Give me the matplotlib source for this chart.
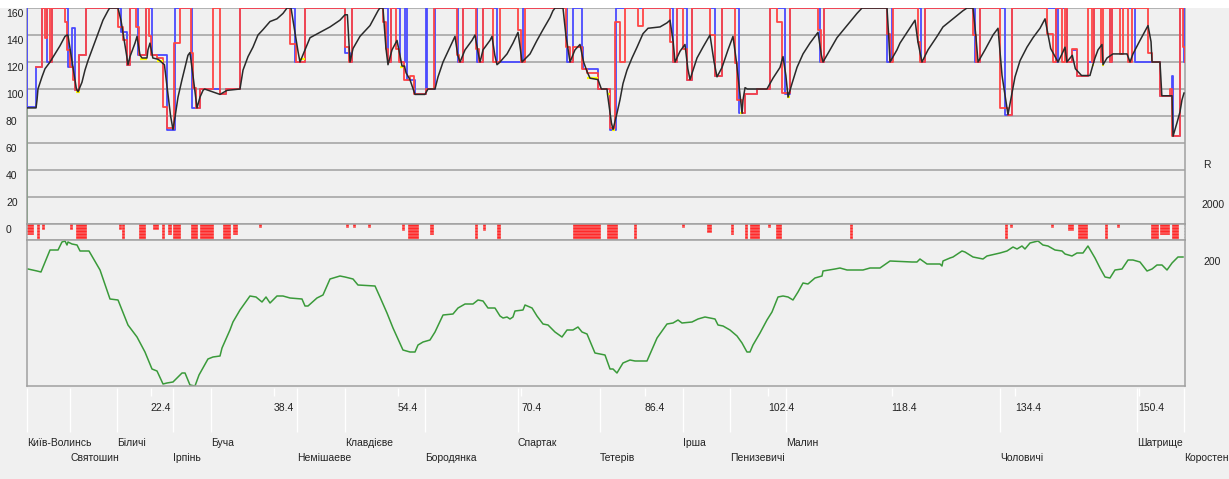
import matplotlib
matplotlib.use("Agg")
import matplotlib.pyplot as plt
import matplotlib.transforms as mtransforms
from matplotlib.patches import Rectangle

# ---- data -------------------------------------------------------------
# actual speed (km, km/h)
speed_km = [6.4, 7.57, 7.7, 7.82, 8.34, 8.73, 9.38, 10.03, 10.67, 11.32, 11.58, 11.7, 12.8, 13.01,
            13.52, 13.91, 14.30, 14.95, 15.60, 16.24, 16.89, 17.1, 18.19, 18.6, 19.3, 19.48, 19.74,
            20.39, 20.65, 21.04, 21.3, 21.94, 22.07, 22.33, 22.7, 23.4, 24.2, 25.0, 25.31, 25.57,
            25.96, 26.48, 26.87, 27.25, 27.51, 27.9, 28.42, 28.81, 29.20, 29.4, 31.40, 32.31, 33.99,
            34.1, 34.38, 35.03, 35.67, 36.32, 36.97, 37.88, 38.78, 39.56, 40.08, 40.6, 41.5, 41.76,
            42.41, 43.06, 44.35, 45.65, 46.94, 47.59, 47.9, 48.24, 48.63, 49.53, 50.83, 51.87, 52.1,
            52.51, 52.9, 53.16, 53.68, 54.33, 54.7, 54.98, 55.3, 55.5, 56.0, 56.66, 57.95, 58.34,
            59.25, 59.64, 60.29, 61.19, 61.84, 62.2, 62.49, 63.14, 64.04, 64.43, 64.8, 65.08, 65.47,
            66.37, 66.63, 67.0, 67.28, 67.67, 68.58, 69.35, 70.00, 70.3, 70.52, 71.56, 72.46, 73.24,
            74.15, 74.53, 74.8, 75.83, 76.2, 76.74, 77.38, 78.03, 78.5, 78.94, 79.33, 80.36, 80.8,
            81.53, 81.6, 82.1, 82.31, 82.82, 83.21, 83.60, 84.12, 84.77, 85.42, 86.19, 86.84, 88.40,
            89.30, 89.69, 90.1, 90.34, 90.99, 91.63, 92.0, 92.28, 93.19, 93.96, 94.87, 95.4, 95.78,
            96.43, 97.20, 97.85, 98.3, 99.02, 99.15, 99.41, 99.7, 102.25, 103.03, 103.94, 104.33,
            104.7, 104.98, 105.49, 106.14, 106.92, 107.82, 108.86, 109.3, 109.51, 110.42, 111.32,
            112.62, 113.91, 114.56, 117.80, 118.0, 118.19, 119.09, 119.48, 120.39, 121.43, 121.8,
            122.33, 123.11, 124.28, 125.05, 126.35, 127.64, 128.16, 128.94, 129.3, 129.59, 130.49,
            131.53, 132.18, 132.7, 133.47, 133.99, 134.38, 135.03, 135.93, 136.71, 137.62, 138.27,
            139.0, 139.95, 140.47, 140.86, 141.1, 141.8, 142.2, 143.0, 144.09, 144.48, 144.74, 145.13,
            145.65, 145.78, 146.30, 147.07, 148.89, 149.28, 149.66, 150.57, 151.61, 152.0, 152.13,
            153.16, 153.4, 154.72, 154.85, 155.36, 155.75, 156.01, 156.27]
speed_v = [86, 86, 92, 100, 109, 115, 120, 126, 132, 139, 140, 140, 100, 98,
           105, 114, 121, 131, 141, 151, 158, 160, 160, 150, 125, 118, 124,
           134, 139, 125, 123, 123, 129, 134, 123, 122, 118, 80, 70, 79,
           94, 107, 116, 125, 127, 110, 86, 94, 99, 100, 96, 99, 100,
           104, 114, 124, 131, 140, 144, 150, 152, 156, 160, 160, 128, 120,
           129, 138, 142, 146, 151, 155, 155, 120, 130, 139, 147, 158, 160,
           160, 130, 118, 129, 136, 125, 117, 117, 112, 107, 96, 96, 100,
           100, 109, 120, 131, 139, 125, 120, 129, 136, 140, 128, 120, 129,
           136, 139, 125, 118, 120, 126, 134, 142, 130, 120, 126, 136, 144,
           153, 158, 160, 160, 140, 120, 129, 133, 120, 113, 108, 107, 100,
           100, 96, 75, 70, 82, 92, 104, 114, 123, 131, 141, 145, 146,
           149, 151, 135, 120, 128, 133, 115, 107, 123, 131, 140, 120, 109,
           116, 129, 139, 120, 82, 92, 101, 100, 100, 108, 116, 124,
           110, 94, 104, 116, 126, 134, 142, 125, 120, 129, 138,
           147, 156, 160, 160, 141, 120, 129, 134, 142, 151, 135,
           120, 129, 139, 146, 152, 158, 160, 160, 140, 120, 129,
           140, 145, 110, 81, 97, 109, 121, 131, 138, 145, 152,
           130, 120, 126, 131, 120, 125, 115, 110, 110, 118, 123, 129,
           133, 118, 123, 126, 126, 120, 126, 136, 147, 135, 120,
           120, 95, 95, 65, 75, 83, 92, 97]

# red limit (step, km start -> km/h)
red_km = [7.57, 8.34, 8.73, 8.99, 9.38, 9.64, 11.32, 11.58, 11.97, 12.36, 12.62, 13.14, 14.04,
          18.19, 18.84, 19.35, 19.74, 20.52, 20.91, 21.81, 22.20, 22.46, 23.24, 24.02, 24.53, 25.44, 26.22,
          27.64, 27.90, 28.29, 28.81, 30.49, 31.40, 32.18, 33.99,
          40.47, 41.24, 42.41, 47.59, 48.11, 48.50, 52.51, 52.90, 53.16, 53.55, 54.20, 54.59, 55.23,
          56.01, 56.53, 58.08, 59.12,
          62.10, 62.36, 62.88, 64.56, 64.95, 65.47, 66.76, 67.67, 70.00, 70.39, 70.91, 76.22, 76.74,
          77.13, 78.29, 78.94, 80.36, 81.92, 82.57, 83.21, 83.86, 85.55, 86.19,
          89.69, 90.08, 90.60, 91.37, 91.89, 92.54, 94.87, 95.52, 96.43, 98.11, 98.37, 99.02, 99.41,
          100.96, 102.64, 103.55, 104.20, 105.24, 108.86, 109.25, 109.64,
          117.80, 118.19, 118.58, 121.81, 122.07, 122.72, 128.94, 129.33, 129.85, 132.44, 133.47, 133.99,
          138.52, 139.30, 139.69, 140.47, 140.86, 141.12, 141.76, 142.41, 143.83, 144.35, 144.61,
          145.52, 145.78, 146.69, 146.95, 147.98, 148.37, 149.02, 149.53, 151.67, 152.13, 153.16,
          154.46, 154.72, 155.75, 156.14, 156.4]
red_v = [116, 160, 138, 160, 120, 160, 150, 129, 116, 107, 99, 125, 160,
         146, 136, 118, 160, 146, 125, 160, 139, 125, 123, 87, 71, 134, 160,
         127, 101, 86, 100, 160, 96, 100, 160,
         133, 120, 160, 131, 120, 160, 150, 130, 120, 160, 130, 120, 107,
         110, 96, 100, 160,
         125, 120, 160, 130, 120, 160, 120, 160, 144, 120, 160, 131, 120,
         131, 115, 112, 100, 71, 150, 120, 160, 147, 160,
         135, 120, 160, 130, 107, 160, 140, 110, 160, 119, 92, 82, 96,
         100, 160, 150, 97, 160, 144, 120, 160,
         141, 120, 160, 135, 120, 160, 140, 120, 160, 86, 81, 160,
         141, 120, 160, 120, 160, 120, 130, 110, 160, 120, 160,
         120, 160, 120, 160, 126, 160, 120, 160, 127, 120, 95,
         100, 65, 160, 131, 120]

# blue limit (step)
blue_km = [6.4, 6.42, 7.57, 8.34, 8.99, 9.64, 11.71, 12.23, 12.62, 13.14, 14.04, 18.58, 19.35, 19.74,
           20.78, 21.81, 22.59, 24.53, 25.57, 27.77, 28.81, 31.40, 32.18, 33.99, 41.11, 42.41, 47.59,
           48.24, 48.50, 53.16, 53.55, 54.72, 55.36, 55.62, 56.66, 58.08, 58.21, 59.25, 62.23, 62.88,
           64.69, 65.47, 67.28, 70.65, 76.35, 77.12, 78.29, 78.42, 80.36, 81.92, 82.69, 90.08, 90.60,
           91.89, 92.54, 95.52, 96.43, 98.63, 99.41, 100.96, 102.64, 104.59, 105.24, 109.12, 109.64,
           117.80, 118.45, 122.20, 122.72, 129.20, 129.85, 133.08, 133.99, 139.69, 139.95, 141.12,
           141.76, 142.41, 143.83, 144.61, 146.69, 146.95, 149.92, 152.13, 153.16, 154.72, 154.85,
           155.36, 155.75, 156.27, 156.4]
blue_v = [160, 87, 116, 160, 120, 160, 116, 145, 99, 125, 160, 142, 118, 160,
          125, 160, 125, 70, 160, 86, 100, 96, 100, 160, 120, 160, 127,
          120, 160, 120, 160, 120, 160, 107, 96, 160, 100, 160, 120, 160,
          120, 160, 120, 160, 120, 160, 131, 115, 100, 70, 160, 120, 160,
          107, 160, 110, 160, 82, 96, 100, 160, 96, 160, 120, 160,
          120, 160, 120, 160, 120, 160, 81, 160, 120, 160, 120,
          129, 110, 120, 160, 120, 160, 120, 120, 95, 110, 65,
          65, 160, 120, 120]

# yellow marks (km from, km to, km/h)
yel_from = [12.75, 21.04, 23.24, 41.76, 54.72, 78.94, 81.53, 82.18, 98.76, 104.85, 144.35, 145.65]
yel_to = [13.27, 21.94, 24.02, 42.41, 55.10, 80.36, 81.92, 82.57, 99.02, 105.24, 144.61, 145.91]
yel_v = [98, 122, 121, 122, 116, 108, 96, 70, 82, 94, 118, 118]

start_km = [6.4, 6.4]
start_v = [0, 85]

# red marks strip (km from, km to, relative height)
bar_from = [6.4, 7.70, 8.34, 11.97, 12.75, 18.32, 18.71, 20.91, 22.72, 23.89, 24.66, 25.31, 27.64,
            28.81, 31.79, 33.08, 36.45, 47.72, 48.63, 50.57, 54.98, 55.75, 58.60, 64.43, 65.47, 67.28,
            77.13, 81.53, 85.06, 91.28, 94.49, 97.60, 99.44, 100.08, 102.38, 103.42, 113.0, 133.08,
            133.73, 139.04, 141.24, 142.54, 146.04, 147.59, 151.99, 153.16, 154.72]
bar_to = [7.18, 7.95, 8.58, 12.20, 14.04, 18.55, 18.97, 21.68, 23.37, 24.15, 25.05, 26.22, 28.42,
          30.49, 32.70, 33.60, 36.68, 47.95, 48.86, 50.80, 55.20, 57.05, 58.99, 64.66, 65.70, 67.67,
          80.62, 82.82, 85.29, 91.51, 95.01, 97.83, 99.67, 101.25, 102.61, 104.07, 113.23, 133.34,
          133.96, 139.27, 141.89, 143.70, 146.30, 147.82, 152.90, 154.33, 155.49]
bar_h = [0.6, 1, 0.3, 0.3, 1, 0.3, 1, 1, 0.3, 1, 0.6, 1, 1,
         1, 1, 0.6, 0.2, 0.2, 0.2, 0.2, 0.4, 1, 0.6, 1, 0.4, 1,
         1, 1, 1, 0.2, 0.5, 0.6, 1, 1, 0.2, 1, 1, 1,
         0.2, 0.2, 0.4, 1, 1, 0.2, 1, 0.6, 1]

# track profile (km, m)
prof_km = [6.53, 7.70, 8.21, 9.38, 10.42, 10.93, 11.32, 11.58, 11.71, 12.23, 12.88, 13.27, 14.43,
           15.86, 17.15, 18.19, 19.48, 20.65, 21.68, 22.59, 23.24, 24.02, 24.53, 25.31, 26.48, 26.87,
           27.51, 28.16, 28.68, 29.84, 30.49, 31.40, 31.66, 32.69, 33.08, 33.99, 35.28, 36.06, 36.84,
           37.36, 37.88, 38.78, 39.56, 40.47, 42.02, 42.41, 42.80, 43.96, 44.74, 45.65, 46.94, 47.59,
           48.63, 49.27, 51.48, 52.12, 53.03, 53.81, 55.10, 56.01, 56.66, 57.05, 57.70, 58.60, 59.25,
           60.29, 61.58, 62.23, 63.14, 64.17, 64.82, 65.47, 66.11, 67.02, 67.67, 68.06, 68.58, 68.96,
           69.35, 69.61, 70.65, 70.91, 71.82, 72.46, 73.24, 73.89, 74.79, 75.70, 76.35, 77.12, 77.77,
           78.29, 78.94, 79.97, 81.27, 81.92, 82.31, 82.82, 83.60, 84.51, 85.16, 86.71, 88.01, 89.30,
           90.08, 90.73, 91.24, 92.54, 93.32, 94.22, 95.52, 95.91, 96.56, 97.46, 98.37, 99.02, 99.66,
           100.05, 100.44, 101.35, 102.25, 102.90, 103.68, 104.33, 104.98, 105.62, 106.27, 106.92,
           107.56, 108.47, 109.38, 109.51, 111.06, 111.71, 112.62, 114.69, 115.60, 116.89, 118.19,
           121.03, 121.68, 122.07, 122.98, 124.66, 124.92, 125.05, 125.96, 126.35, 127.51, 127.90,
           128.94, 130.23, 130.75, 132.44, 133.34, 134.12, 134.64, 135.28, 135.67, 136.32, 137.36,
           138.00, 138.65, 139.56, 140.47, 140.86, 141.76, 142.41, 143.19, 143.83, 144.74, 145.39,
           146.04, 146.68, 147.33, 148.24, 149.02, 149.66, 150.57, 151.48, 152.13, 152.77, 153.42,
           154.07, 154.72, 155.49, 156.14]
prof_m = [193.6, 192.0, 191.2, 208.8, 208.8, 215.2, 216.0, 212.8, 215.2, 213.6, 212.8, 208.0, 208.0,
          192.8, 169.6, 168.8, 148.8, 139.2, 127.2, 113.6, 112.0, 101.6, 102.4, 103.2, 110.4, 110.4,
          100.8, 100.0, 108.8, 121.6, 123.2, 124.0, 130.4, 144.8, 151.2, 160.8, 172.0, 171.2, 167.2,
          171.2, 166.4, 172.0, 172.0, 170.4, 169.6, 164.0, 164.0, 170.4, 172.8, 185.6, 188.0, 187.2,
          185.6, 180.8, 180.0, 171.2, 158.4, 146.4, 128.8, 127.2, 127.2, 132.8, 135.2, 136.8, 143.2,
          156.8, 157.6, 162.4, 165.6, 165.6, 168.8, 168.0, 162.4, 162.4, 156.0, 154.4, 155.2, 153.6,
          155.2, 160.0, 160.8, 164.8, 162.4, 156.0, 149.6, 148.8, 143.2, 139.2, 144.8, 144.8, 147.2,
          143.2, 141.6, 126.4, 124.8, 113.6, 113.6, 110.4, 118.4, 120.8, 120.0, 120.0, 138.4, 149.6,
          150.4, 152.8, 150.4, 151.2, 153.6, 155.2, 153.6, 148.8, 148.0, 144.8, 140.0, 134.4, 127.2,
          127.2, 132.8, 142.4, 152.8, 159.2, 171.2, 172.0, 171.2, 168.8, 175.2, 182.4,
          181.6, 186.4, 188.0, 192.0, 193.6, 194.4, 192.8, 192.8, 194.4, 194.4, 200.0,
          199.2, 199.2, 201.6, 197.6, 197.6, 196.0, 200.0, 202.4, 203.2, 208.0, 207.2,
          203.2, 201.6, 204.0, 206.4, 208.0, 211.2, 209.6, 212.0, 209.6, 214.4, 216.0,
          212.8, 212.0, 208.8, 208.0, 205.6, 204.0, 206.4, 206.4, 212.0, 202.4, 194.4,
          187.2, 186.4, 192.8, 193.6, 200.8, 200.8, 199.2, 192.0, 193.6, 196.8, 196.8,
          192.8, 198.4, 203.2, 203.2]

km_ticks = [22.4, 38.4, 54.4, 70.4, 86.4, 102.4, 118.4, 134.4, 150.4]
stations = ["Київ-Волинсь", "Святошин", "Біличі", "Ірпінь", "Буча", "Немішаеве", "Клавдієве",
            "Бородянка", "Спартак", "Тетерів", "Ірша", "Пенизевичі", "Малин", "Чоловичі",
            "Шатрище", "Коростень"]
station_km = [6.4, 12.0, 18.06, 25.3, 30.2, 41.4, 47.6, 57.96, 70.0, 80.6, 91.4, 97.5, 104.7,
              132.5, 150.2, 156.3]
speed_grid = [0, 20, 40, 60, 80, 100, 120, 140, 160]

# ---- layout ------------------------------------------------------------
W, H = 1229, 479
BG = "#f0f0f0"
GRID = "#a0a0a0"
plt.rcParams["font.family"] = ["Liberation Sans Narrow", "Liberation Sans", "DejaVu Sans"]
plt.rcParams["font.size"] = 7.5

fig = plt.figure(figsize=(W / 100, H / 100), dpi=100, facecolor=BG)
fig.patches.append(Rectangle((0, 1 - 7.5 / H), 1, 7.5 / H, transform=fig.transFigure,
                             facecolor="white", edgecolor="none", zorder=0))

x0, x1 = 27, 1185
left, width = x0 / W, (x1 - x0) / W
ax = fig.add_axes([left, 1 - 224 / H, width, 218 / H])
ax_bar = fig.add_axes([left, 1 - 240 / H, width, 16 / H])
ax_el = fig.add_axes([left, 1 - 386 / H, width, 146 / H])

xlim = (6.4, 156.4)
for a in (ax, ax_bar, ax_el):
    a.set_xlim(*xlim)
    a.set_xticks([])
    a.set_yticks([])
    for s in a.spines.values():
        s.set_color(GRID)
        s.set_linewidth(1.1)
ax.patch.set_visible(False)
ax.spines["top"].set_visible(False)
ax_bar.set_facecolor(BG)
ax_el.set_facecolor(BG)

# speed panel
ax.set_ylim(0, 161.5)
ax.hlines(speed_grid[1:], xlim[0], xlim[1], color=GRID, lw=1.1, zorder=1)
ax.plot(start_km, start_v, color="#3a9a3a", lw=1.2, zorder=2)
ax.step(blue_km, blue_v, where="post", color="#4a4aff", lw=1.3, zorder=3)
ax.step(red_km + [xlim[1]], red_v + [red_v[-1]], where="post", color="#ff4545", lw=1.3, zorder=4)
ax.hlines(yel_v, yel_from, yel_to, color="#ffff00", lw=1.6, zorder=5)
ax.plot(speed_km, speed_v, color="#2a2a2a", lw=1.1, zorder=6)

tr_y = mtransforms.blended_transform_factory(fig.transFigure, ax.transData)
tr_y = mtransforms.offset_copy(tr_y, fig=fig, x=0, y=-6, units="dots")
for v in speed_grid:
    ax.text(6 / W, v, str(v), transform=tr_y, ha="left", va="center", color="#222222",
            clip_on=False)

# red marks strip: solid red blocks with thin light stripes
ax_bar.set_ylim(0, 1)
widths = [b - a for a, b in zip(bar_from, bar_to)]
ax_bar.bar(bar_from, bar_h, width=widths, bottom=[1 - h for h in bar_h], align="edge",
           color="#ff2a2a", edgecolor="#ff2a2a", linewidth=0.5, zorder=2)
gaps = [1 - (3 * k + 3) / 16 for k in range(5)]
ax_bar.hlines(gaps, xlim[0], xlim[1], color=BG, lw=0.3, zorder=3)

# profile panel
ax_el.set_ylim(100, 216.8)
ax_el.plot(prof_km, prof_m, color="#3a9a3a", lw=1.1)

fig.text(1203 / W, 1 - 165 / H, "R", ha="left", va="center", color="#222222")
fig.text(1201 / W, 1 - 205 / H, "2000", ha="left", va="center", color="#222222")
fig.text(1203 / W, 1 - 262 / H, "200", ha="left", va="center", color="#222222")

# km axis and stations below
tr_x = mtransforms.blended_transform_factory(ax_el.transData, fig.transFigure)
ax_el.vlines(station_km, 1 - 432 / H, 1 - 388 / H, transform=tr_x, color="white", lw=1,
             clip_on=False)
ax_el.vlines(km_ticks, 1 - 396 / H, 1 - 388 / H, transform=tr_x, color="white", lw=1,
             clip_on=False)
for k in km_ticks:
    ax_el.text(k, 1 - 408 / H, f"{k:.1f}", transform=tr_x, ha="left", va="center",
               color="#222222", clip_on=False)
for i, (name, k) in enumerate(zip(stations, station_km)):
    yy = 443 if i % 2 == 0 else 458
    ax_el.text(k, 1 - yy / H, name, transform=tr_x, ha="left", va="center",
               color="#222222", clip_on=False)

fig.savefig("out.png", dpi=100, facecolor=BG)
